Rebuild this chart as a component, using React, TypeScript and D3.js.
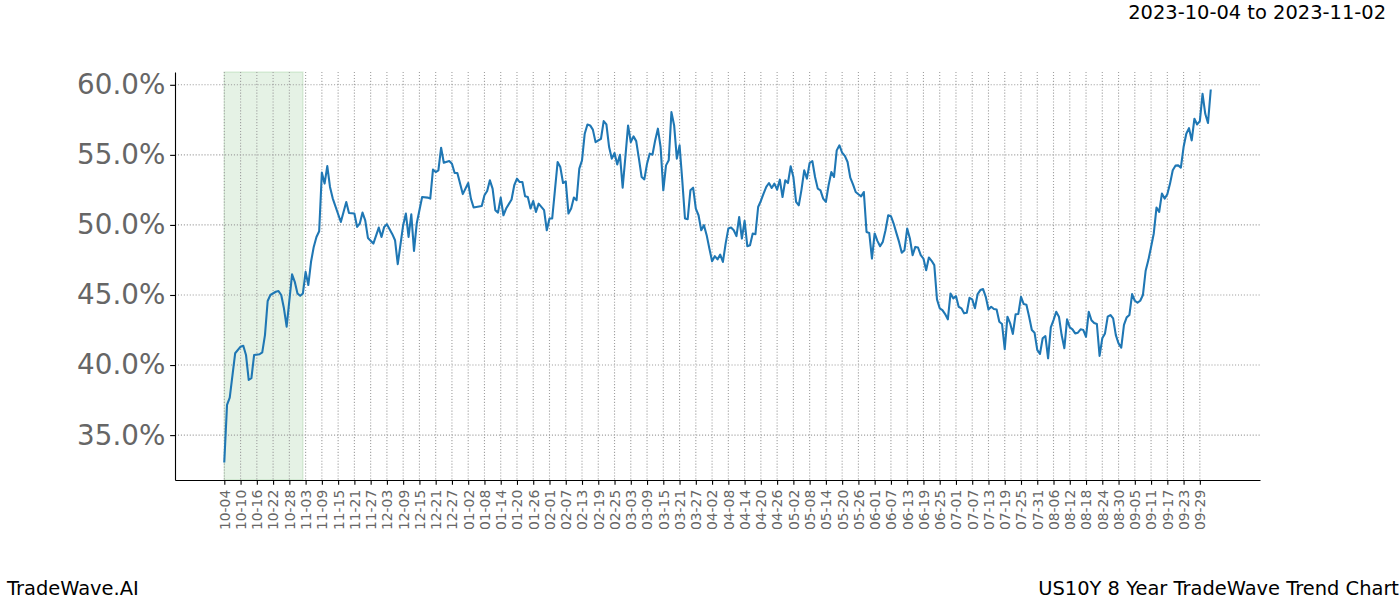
import { useEffect, useRef } from 'react';
import * as d3 from 'd3';

const WIDTH = 1400;
const HEIGHT = 600;
const MARGIN = { top: 72, right: 140, bottom: 120, left: 175 };
const FONT = '"DejaVu Sans", sans-serif';
const PT = 100 / 72; // matplotlib points -> px at 100 dpi

// x tick labels, one every 6 days starting at 2023-10-04
const tickLabels = [
  '10-04', '10-10', '10-16', '10-22', '10-28', '11-03', '11-09', '11-15', '11-21', '11-27',
  '12-03', '12-09', '12-15', '12-21', '12-27', '01-02', '01-08', '01-14', '01-20', '01-26',
  '02-01', '02-07', '02-13', '02-19', '02-25', '03-03', '03-09', '03-15', '03-21', '03-27',
  '04-02', '04-08', '04-14', '04-20', '04-26', '05-02', '05-08', '05-14', '05-20', '05-26',
  '06-01', '06-07', '06-13', '06-19', '06-25', '07-01', '07-07', '07-13', '07-19', '07-25',
  '07-31', '08-06', '08-12', '08-18', '08-24', '08-30', '09-05', '09-11', '09-17', '09-23',
  '09-29',
];
const TICK_STEP = 6;

// days since 2023-10-04 and trend value (%)
const dayOffsets = [
  0, 1, 2, 4, 6, 7, 8, 9, 10, 11, 13, 14, 15, 16, 17, 19, 20, 21, 22, 23,
  25, 26, 27, 28, 29, 30, 31, 32, 33, 34, 35, 36, 37, 38, 39, 40, 43, 45, 46, 48,
  49, 50, 51, 52, 53, 55, 57, 58, 59, 60, 62, 63, 64, 66, 67, 68, 69, 70, 71, 73,
  75, 76, 77, 78, 79, 80, 81, 83, 84, 85, 86, 88, 90, 91, 92, 95, 96, 97, 98, 99,
  100, 101, 102, 103, 104, 106, 107, 108, 109, 110, 111, 112, 113, 114, 115, 116, 118, 119, 120, 121,
  122, 123, 124, 125, 126, 127, 128, 129, 130, 131, 132, 133, 134, 135, 136, 137, 139, 140, 141, 142,
  143, 144, 145, 146, 147, 148, 149, 150, 151, 152, 153, 154, 155, 156, 157, 158, 159, 160, 161, 162,
  163, 164, 165, 166, 167, 168, 169, 170, 171, 172, 173, 174, 175, 176, 177, 178, 179, 180, 181, 182,
  183, 184, 185, 186, 187, 188, 189, 190, 191, 192, 193, 194, 195, 196, 197, 198, 199, 200, 201, 202,
  203, 204, 205, 206, 207, 208, 209, 210, 211, 212, 213, 214, 215, 216, 217, 218, 219, 220, 221, 222,
  223, 224, 225, 226, 227, 228, 229, 230, 231, 232, 233, 234, 235, 236, 237, 238, 239, 240, 241, 242,
  243, 244, 245, 246, 247, 248, 249, 250, 251, 252, 253, 254, 255, 256, 257, 258, 259, 260, 261, 262,
  263, 264, 265, 266, 267, 268, 269, 270, 271, 272, 273, 274, 275, 276, 277, 278, 279, 280, 281, 282,
  283, 284, 285, 286, 287, 288, 289, 290, 291, 292, 293, 294, 295, 296, 297, 298, 299, 300, 301, 302,
  303, 304, 305, 306, 307, 308, 309, 310, 311, 312, 313, 314, 315, 316, 317, 318, 319, 320, 321, 322,
  323, 324, 325, 326, 327, 328, 329, 330, 331, 332, 333, 334, 335, 336, 337, 338, 339, 340, 341, 342,
  343, 344, 345, 346, 347, 348, 349, 350, 351, 352, 353, 354, 355, 356, 357, 358, 359, 360, 361, 362,
  363, 364,
];
const trendValues = [
  33.12, 37.16, 37.68, 40.84, 41.31, 41.38, 40.72, 38.94, 39.06, 40.72, 40.77, 40.91, 42.14, 44.57, 45.0, 45.23, 45.28, 45.0, 44.05, 42.74,
  46.47, 45.94, 45.11, 44.94, 45.11, 46.65, 45.71, 47.37, 48.43, 49.14, 49.55, 53.73, 52.95, 54.2, 52.71, 51.9, 50.21, 51.64, 50.85, 50.81,
  49.86, 50.1, 50.88, 50.33, 49.07, 48.67, 49.81, 49.14, 49.86, 50.05, 49.34, 48.91, 47.2, 49.98, 50.81, 49.14, 50.76, 48.15, 50.1, 51.99,
  51.95, 51.88, 53.95, 53.77, 53.9, 55.51, 54.44, 54.56, 54.37, 53.7, 53.7, 52.2, 52.99, 51.88, 51.24, 51.35, 52.12, 52.42, 53.18, 52.59,
  51.05, 50.88, 51.95, 50.69, 51.17, 51.81, 52.83, 53.3, 53.06, 53.06, 52.04, 51.99, 51.17, 51.71, 50.93, 51.52, 51.05, 49.62, 50.46, 50.46,
  52.47, 54.49, 54.13, 52.99, 53.11, 50.81, 51.17, 51.95, 51.76, 54.02, 54.61, 56.51, 57.17, 57.1, 56.8, 55.91, 56.15, 57.41, 57.17, 55.56,
  54.73, 55.13, 54.32, 55.01, 52.66, 54.84, 57.1, 55.91, 56.32, 55.98, 54.73, 53.42, 53.25, 54.37, 55.09, 55.01, 56.03, 56.87, 55.56, 52.47,
  54.25, 54.61, 58.05, 57.1, 54.73, 55.68, 53.18, 50.46, 50.41, 52.47, 52.66, 51.17, 50.69, 49.62, 49.98, 49.27, 48.32, 47.41, 47.77, 47.54,
  47.88, 47.36, 48.67, 49.74, 49.81, 49.62, 49.2, 50.57, 49.03, 50.29, 48.48, 48.55, 49.39, 49.34, 51.28, 51.71, 52.24, 52.71, 52.99, 52.64,
  52.95, 52.52, 53.23, 51.99, 53.18, 52.99, 54.18, 53.42, 51.64, 51.4, 52.52, 53.9, 53.3, 54.42, 54.56, 53.42, 52.59, 52.47, 51.88, 51.64,
  52.83, 53.77, 53.42, 55.32, 55.68, 55.15, 54.93, 54.49, 53.38, 52.9, 52.35, 52.19, 52.04, 52.35, 49.5, 49.43, 47.6, 49.39, 48.86, 48.48,
  48.79, 49.62, 50.69, 50.62, 50.1, 49.43, 48.79, 48.01, 48.2, 49.74, 49.03, 47.84, 48.43, 48.39, 47.84, 47.6, 46.77, 47.68, 47.44, 47.13,
  44.69, 44.05, 43.92, 43.64, 43.26, 45.11, 44.76, 44.92, 44.16, 44.05, 43.69, 43.73, 44.8, 44.69, 44.05, 45.06, 45.35, 45.42, 44.87, 43.97,
  44.16, 44.0, 43.97, 43.09, 42.93, 41.13, 43.45, 42.98, 42.22, 43.62, 43.64, 44.87, 44.35, 44.3, 43.45, 42.5, 42.31, 41.08, 40.79, 41.91,
  42.07, 40.48, 42.69, 43.21, 43.8, 43.45, 42.14, 41.2, 43.26, 42.69, 42.55, 42.26, 42.31, 42.55, 42.5, 42.02, 43.8, 43.2, 43.0, 42.93,
  40.65, 41.91, 42.26, 43.45, 43.57, 43.33, 42.14, 41.55, 41.24, 42.86, 43.4, 43.57, 45.06, 44.59, 44.45, 44.59, 45.0, 46.73, 47.49, 48.43,
  49.39, 51.24, 50.93, 52.24, 51.88, 52.19, 52.95, 53.9, 54.23, 54.25, 54.09, 55.56, 56.51, 56.91, 56.03, 57.58, 57.17, 57.41, 59.36, 57.93,
  57.27, 59.59,
];

const yTicks = [35, 40, 45, 50, 55, 60];
// highlighted window: 2023-10-04 .. 2023-11-02
const highlightDays = [0, 29];

export default function App() {
  const svgRef = useRef<SVGSVGElement>(null);

  useEffect(() => {
    if (!svgRef.current) return;
    const svg = d3.select(svgRef.current);
    svg.selectAll('*').remove();

    const boundsWidth = WIDTH - MARGIN.left - MARGIN.right;
    const boundsHeight = HEIGHT - MARGIN.top - MARGIN.bottom;

    const data = dayOffsets.map((d, i) => ({ day: d, value: trendValues[i] }));

    // matplotlib-like 5% margins
    const [xMin, xMax] = d3.extent(dayOffsets) as [number, number];
    const xPad = (xMax - xMin) * 0.05;
    const xScale = d3.scaleLinear().domain([xMin - xPad, xMax + xPad]).range([0, boundsWidth]);

    const [yMin, yMax] = d3.extent(trendValues) as [number, number];
    const yPad = (yMax - yMin) * 0.05;
    const yScale = d3.scaleLinear().domain([yMin - yPad, yMax + yPad]).range([boundsHeight, 0]);

    const g = svg.append('g').attr('transform', `translate(${MARGIN.left}, ${MARGIN.top})`);

    // shaded window
    g.append('rect')
      .attr('x', xScale(highlightDays[0]))
      .attr('y', 0)
      .attr('width', xScale(highlightDays[1]) - xScale(highlightDays[0]))
      .attr('height', boundsHeight)
      .attr('fill', 'green')
      .attr('fill-opacity', 0.1)
      .attr('stroke', 'green')
      .attr('stroke-opacity', 0.12)
      .attr('stroke-width', 1.4);

    const xTickDays = tickLabels.map((_, i) => i * TICK_STEP);
    const gridW = 0.8 * PT;
    const gridDash = `${gridW},${1.65 * gridW}`;

    // grid
    g.append('g')
      .selectAll('line')
      .data(xTickDays)
      .join('line')
      .attr('x1', d => xScale(d))
      .attr('x2', d => xScale(d))
      .attr('y1', 0)
      .attr('y2', boundsHeight)
      .attr('stroke', '#a0a0a0')
      .attr('stroke-width', gridW)
      .attr('stroke-dasharray', gridDash);

    g.append('g')
      .selectAll('line')
      .data(yTicks)
      .join('line')
      .attr('x1', 0)
      .attr('x2', boundsWidth)
      .attr('y1', d => yScale(d))
      .attr('y2', d => yScale(d))
      .attr('stroke', '#a0a0a0')
      .attr('stroke-width', gridW)
      .attr('stroke-dasharray', gridDash);

    // line
    const line = d3
      .line<{ day: number; value: number }>()
      .x(d => xScale(d.day))
      .y(d => yScale(d.value));

    g.append('path')
      .datum(data)
      .attr('d', line)
      .attr('fill', 'none')
      .attr('stroke', '#1f77b4')
      .attr('stroke-width', 1.5 * PT)
      .attr('stroke-linejoin', 'round')
      .attr('stroke-linecap', 'square');

    const tickLen = 3.5 * PT;

    // x axis
    const xAxis = g
      .append('g')
      .attr('transform', `translate(0, ${boundsHeight})`)
      .call(
        d3
          .axisBottom(xScale)
          .tickValues(xTickDays)
          .tickFormat((_, i) => tickLabels[i])
          .tickSizeInner(tickLen)
          .tickSizeOuter(0)
          .tickPadding(tickLen)
      );
    xAxis.select('.domain').attr('stroke', '#000').attr('stroke-width', 0.8 * PT);
    xAxis.selectAll('.tick line').attr('stroke', '#000').attr('stroke-width', 0.8 * PT);
    xAxis
      .selectAll('.tick text')
      .attr('transform', 'rotate(-90)')
      .attr('x', -2 * tickLen)
      .attr('y', 0)
      .attr('dy', '0.35em')
      .style('text-anchor', 'end')
      .style('font-family', FONT)
      .style('font-size', `${10 * PT}px`)
      .style('fill', '#666666');

    // y axis
    const yAxis = g
      .append('g')
      .call(
        d3
          .axisLeft(yScale)
          .tickValues(yTicks)
          .tickFormat(d => `${(d as number).toFixed(1)}%`)
          .tickSizeInner(tickLen)
          .tickSizeOuter(0)
          .tickPadding(tickLen)
      );
    yAxis.select('.domain').attr('stroke', '#000').attr('stroke-width', 0.8 * PT);
    yAxis.selectAll('.tick line').attr('stroke', '#000').attr('stroke-width', 0.8 * PT);
    yAxis
      .selectAll('.tick text')
      .style('font-family', FONT)
      .style('font-size', `${20 * PT}px`)
      .style('fill', '#666666');

    // title and footer
    svg
      .append('text')
      .attr('x', WIDTH - 14)
      .attr('y', 19)
      .attr('text-anchor', 'end')
      .style('font-family', FONT)
      .style('font-size', `${14 * PT}px`)
      .style('fill', '#000')
      .text('2023-10-04 to 2023-11-02');

    svg
      .append('text')
      .attr('x', 7)
      .attr('y', 595)
      .style('font-family', FONT)
      .style('font-size', `${14 * PT}px`)
      .style('fill', '#000')
      .text('TradeWave.AI');

    svg
      .append('text')
      .attr('x', WIDTH - 1)
      .attr('y', 595)
      .attr('text-anchor', 'end')
      .style('font-family', FONT)
      .style('font-size', `${14 * PT}px`)
      .style('fill', '#000')
      .text('US10Y 8 Year TradeWave Trend Chart');
  }, []);

  return (
    <svg
      ref={svgRef}
      width={WIDTH}
      height={HEIGHT}
      style={{ position: 'absolute', left: 0, top: 0, background: '#fff' }}
    />
  );
}
